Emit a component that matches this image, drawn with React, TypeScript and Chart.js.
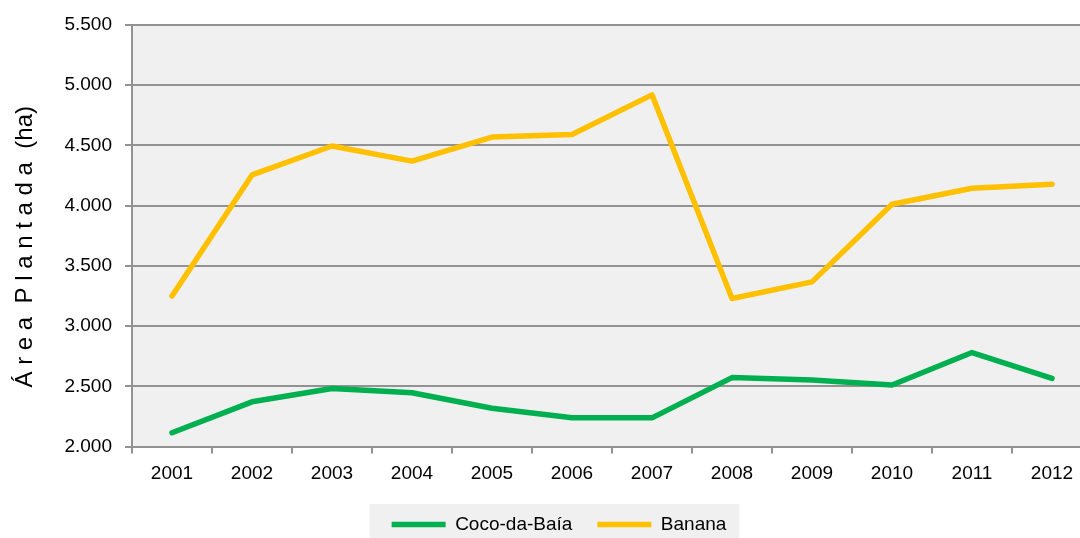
import React, { useEffect, useRef } from "react";
import { Chart, registerables } from "chart.js";

Chart.register(...registerables);

// Planted area (ha) per year
const years = ["2001", "2002", "2003", "2004", "2005", "2006", "2007", "2008", "2009", "2010", "2011", "2012"];
const cocoDaBaia = [2114, 2371, 2481, 2446, 2318, 2238, 2238, 2572, 2552, 2511, 2780, 2566];
const banana = [3250, 4255, 4495, 4370, 4569, 4591, 4920, 3229, 3367, 4012, 4144, 4178];

const seriesNames = ["Coco-da-Baía", "Banana"];
const seriesColors = ["#00b050", "#ffc000"];

const yMin = 2000;
const yMax = 5500;
const yStep = 500;
const yTitle = "Á r e a  P l a n t a d a  (ha)";

const FONT = "'Liberation Sans', Arial, sans-serif";
const GRID = "#929292";
const PANEL = "#f0f0f0";

// thousands separator as used in pt-BR: 5500 -> "5.500"
const formatThousands = (v: number) => String(v).replace(/\B(?=(\d{3})+(?!\d))/g, ".");

// fills the plot area and the legend strip with the light grey panel colour
const panelPlugin = {
  id: "panels",
  beforeDraw(chart: any) {
    const { ctx, chartArea } = chart;
    ctx.save();
    ctx.fillStyle = PANEL;
    ctx.fillRect(chartArea.left, chartArea.top, chartArea.right - chartArea.left, chartArea.bottom - chartArea.top);
    const boxes = chart.legend?.legendHitBoxes;
    if (boxes && boxes.length) {
      const first = boxes[0];
      const last = boxes[boxes.length - 1];
      const left = first.left - 22;
      const right = last.left + last.width + 13;
      const top = first.top - 11;
      ctx.fillRect(left, top, right - left, chart.height - top);
    }
    ctx.restore();
  },
};

// rotated y-axis title
const yTitlePlugin = {
  id: "yTitle",
  afterDraw(chart: any) {
    const { ctx, chartArea } = chart;
    ctx.save();
    ctx.translate(25, (chartArea.top + chartArea.bottom) / 2 + 11);
    ctx.rotate(-Math.PI / 2);
    ctx.font = `24px ${FONT}`;
    ctx.fillStyle = "#000";
    ctx.textAlign = "center";
    ctx.textBaseline = "middle";
    ctx.fillText(yTitle, 0, 0);
    ctx.restore();
  },
};

export default function App() {
  const canvasRef = useRef<HTMLCanvasElement | null>(null);

  useEffect(() => {
    if (!canvasRef.current) return;
    const lineStyle = (i: number) => ({
      borderColor: seriesColors[i],
      backgroundColor: seriesColors[i],
      borderWidth: 5.5,
      borderCapStyle: "round" as const,
      borderJoinStyle: "round" as const,
      pointRadius: 0,
      pointHoverRadius: 0,
      tension: 0,
      fill: false,
    });
    const chart = new Chart(canvasRef.current, {
      type: "line",
      data: {
        labels: years,
        datasets: [
          { label: seriesNames[0], data: cocoDaBaia, ...lineStyle(0) },
          { label: seriesNames[1], data: banana, ...lineStyle(1) },
        ],
      },
      options: {
        responsive: false,
        animation: false,
        devicePixelRatio: 1,
        layout: { padding: { left: 26, right: 18, top: 25, bottom: 0 } },
        plugins: {
          legend: {
            position: "bottom",
            labels: {
              usePointStyle: true,
              pointStyle: "line",
              pointStyleWidth: 54,
              padding: 25,
              color: "#000",
              font: { family: FONT, size: 19 },
            },
          },
          tooltip: { enabled: false },
        },
        scales: {
          x: {
            offset: true,
            grid: { offset: true, drawOnChartArea: false, drawTicks: true, tickLength: 7, color: GRID, lineWidth: 2 },
            border: { display: true, color: GRID, width: 2 },
            ticks: { color: "#000", font: { family: FONT, size: 19 }, padding: 9, maxRotation: 0, autoSkip: false },
            afterFit: (scale: any) => {
              scale.height = 43.5;
            },
          },
          y: {
            min: yMin,
            max: yMax,
            grid: { color: GRID, lineWidth: 2, tickLength: 7 },
            border: { display: true, color: GRID, width: 2 },
            ticks: {
              stepSize: yStep,
              color: "#000",
              font: { family: FONT, size: 19 },
              padding: 13,
              callback: (v: any) => formatThousands(Number(v)),
            },
            afterFit: (scale: any) => {
              scale.width = 106;
            },
          },
        },
      },
      plugins: [panelPlugin, yTitlePlugin],
    });
    return () => chart.destroy();
  }, []);

  return (
    <div
      style={{
        position: "fixed",
        left: 0,
        top: 0,
        width: 1080,
        height: 538,
        overflow: "hidden",
        background: "#fff",
      }}
    >
      <canvas ref={canvasRef} width={1110} height={544} style={{ display: "block" }} />
    </div>
  );
}
